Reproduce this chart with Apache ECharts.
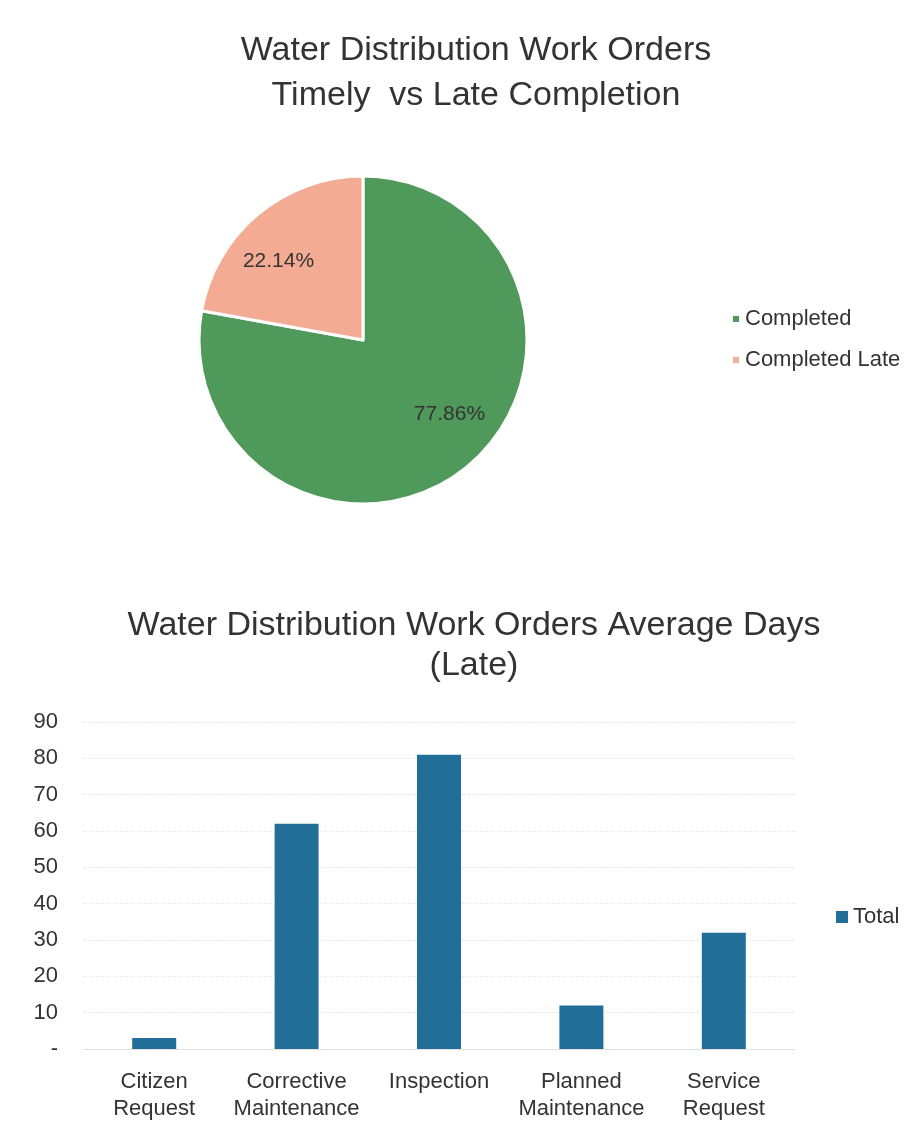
<!DOCTYPE html>
<html><head><meta charset="utf-8">
<script src="https://cdn.jsdelivr.net/npm/echarts@6/dist/echarts.min.js"></script>
<style>html,body{margin:0;padding:0;background:#fff}#c{width:921px;height:1131px}</style>
</head><body><div id="c"></div>
<script>
const pieNames = ['Completed', 'Completed Late'];
const pieValues = [77.86, 22.14];
const pieColors = ['#4f9a5a', '#f4ab93'];

const barCategories = ['Citizen\nRequest', 'Corrective\nMaintenance', 'Inspection', 'Planned\nMaintenance', 'Service\nRequest'];
const barValues = [3, 62, 81, 12, 32];
const yTicks = [0, 10, 20, 30, 40, 50, 60, 70, 80, 90];

const FONT = '"Liberation Sans", "DejaVu Sans", sans-serif';
const chart = echarts.init(document.getElementById('c'), null, {renderer: 'canvas'});
const labelOffsets = [[32, 9], [-30, -14]];

chart.setOption({
  backgroundColor: '#ffffff',
  textStyle: {fontFamily: FONT},
  title: [
    {text: 'Water Distribution Work Orders\nTimely  vs Late Completion', left: 471, top: 23, textAlign: 'center',
     textStyle: {fontSize: 34, fontWeight: 'normal', color: '#333', lineHeight: 45, fontFamily: FONT}},
    {text: 'Water Distribution Work Orders Average Days\n(Late)', left: 469, top: 601, textAlign: 'center',
     textStyle: {fontSize: 34, fontWeight: 'normal', color: '#333', lineHeight: 40, fontFamily: FONT}}
  ],
  legend: [
    {data: pieNames, orient: 'vertical', left: 726, top: 303, itemWidth: 8, itemHeight: 8, itemGap: 19,
     icon: 'rect', textStyle: {fontSize: 22, color: '#333', fontFamily: FONT}},
    {data: ['Total'], orient: 'vertical', left: 831, top: 901, itemWidth: 12, itemHeight: 12, icon: 'rect',
     itemGap: 5, textStyle: {fontSize: 22, color: '#333', fontFamily: FONT}}
  ],
  grid: {left: 83, right: 126, top: 722, bottom: 82, containLabel: false},
  xAxis: {
    type: 'category', data: barCategories,
    axisLine: {show: true, lineStyle: {color: '#e0e0e0'}}, axisTick: {show: false},
    axisLabel: {fontSize: 22, color: '#333', margin: 19, lineHeight: 27, interval: 0, fontFamily: FONT}
  },
  yAxis: {
    type: 'value', min: 0, max: 90, interval: 10,
    axisLine: {show: false}, axisTick: {show: false},
    splitLine: {lineStyle: {color: '#ececec', type: 'dashed'}},
    axisLabel: {fontSize: 22, color: '#333', margin: 25, fontFamily: FONT,
      formatter: v => (yTicks.indexOf(v) >= 0 ? (v === 0 ? '-' : String(v)) : '')}
  },
  series: [
    {
      name: 'Pie', type: 'pie', center: [363, 340], radius: 164, startAngle: 90, clockwise: true,
      data: pieNames.map((n, i) => ({name: n, value: pieValues[i], itemStyle: {color: pieColors[i]},
        label: {offset: labelOffsets[i]}})),
      itemStyle: {borderColor: '#fff', borderWidth: 3},
      label: {show: true, position: 'inside', formatter: p => p.value.toFixed(2) + '%', fontSize: 21, color: '#333', fontFamily: FONT},
      labelLine: {show: false}, emphasis: {disabled: true}, animation: false
    },
    {
      name: 'Total', type: 'bar', data: barValues, barWidth: 44, itemStyle: {color: '#216f98'}, animation: false
    }
  ]
});
</script></body></html>
